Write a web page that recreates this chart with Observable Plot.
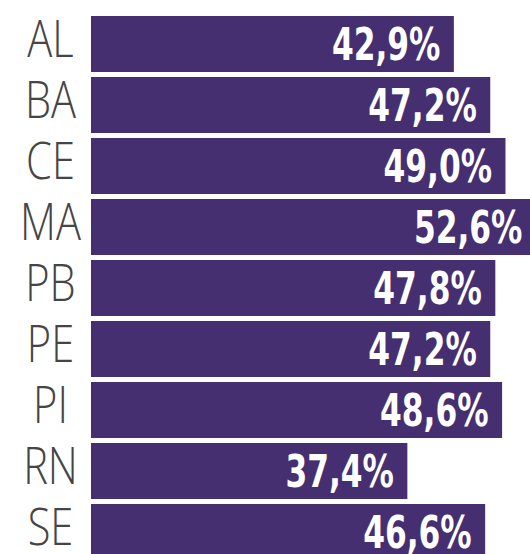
<!DOCTYPE html>
<html>
<head>
<meta charset="utf-8">
<script src="https://cdn.jsdelivr.net/npm/d3@7"></script>
<script src="https://cdn.jsdelivr.net/npm/@observablehq/plot@0.6"></script>
<style>
  html, body { margin: 0; padding: 0; overflow: hidden; background: #fff; }
  #chart svg { display: block; }
</style>
</head>
<body>
<div id="chart"></div>
<script>
const states = ["AL", "BA", "CE", "MA", "PB", "PE", "PI", "RN", "SE"];
const values = [42.9, 47.2, 49.0, 52.6, 47.8, 47.2, 48.6, 37.4, 46.6];

const data = states.map((s, i) => ({state: s, value: values[i]}));
const fmt = v => v.toFixed(1).replace(".", ",") + "%";

const chart = Plot.plot({
  width: 530,
  height: 564,
  marginLeft: 91,
  marginRight: 0,
  marginTop: 12,
  marginBottom: 0,
  x: {domain: [0, 51.9], axis: null},
  y: {domain: states, axis: null, paddingInner: 0.09, paddingOuter: 0.045},
  style: {background: "#fff"},
  marks: [
    Plot.barX(data, {x: "value", y: "state", fill: "#452f70"}),
    Plot.text(data, {
      x: "value", y: "state", text: d => fmt(d.value),
      textAnchor: "end", dx: -14, dy: 1,
      fill: "#fff", fontSize: 44, fontWeight: "bold",
      fontFamily: "'DejaVu Sans Condensed', 'DejaVu Sans', sans-serif"
    }),
    Plot.text(data, {
      y: "state", text: "state", frameAnchor: "left",
      textAnchor: "middle", dx: -41, dy: -4,
      fill: "#454545", fontSize: 52, fontWeight: 300,
      fontFamily: "'Open Sans', sans-serif"
    })
  ]
});
const groups = chart.querySelectorAll('g[aria-label="text"]');
const squeeze = (g, s) => {
  if (!g) return;
  g.querySelectorAll("text").forEach(t => {
    const tr = t.getAttribute("transform") || "";
    t.setAttribute("transform", (tr + ` scale(${s},1)`).trim());
  });
};
squeeze(groups[0], 0.79);
squeeze(groups[1], 0.8);
document.getElementById("chart").appendChild(chart);
</script>
</body>
</html>
